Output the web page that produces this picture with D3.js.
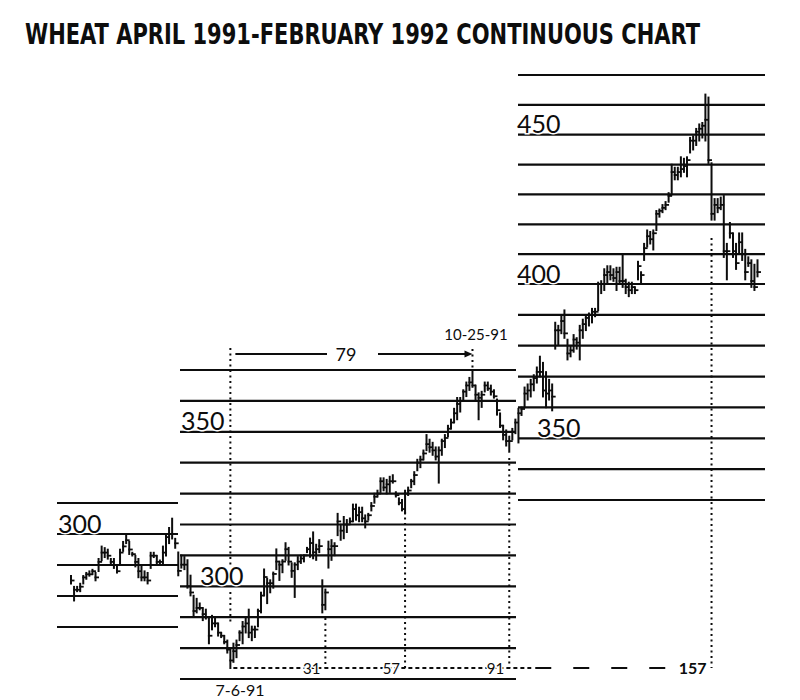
<!DOCTYPE html>
<html>
<head>
<meta charset="utf-8">
<script src="https://cdn.jsdelivr.net/npm/d3@7"></script>
<style>
  body { margin: 0; background: #fff; }
  svg { display: block; }
</style>
</head>
<body>
<svg id="chart" width="800" height="700"></svg>
<script>
// ---------------- DATA ----------------
const title = "WHEAT APRIL 1991-FEBRUARY 1992 CONTINUOUS CHART";

// daily bars (cents/bushel), index 0 = first bar, one per trading day
const high = [
  286.5,283,283,284,286.5,287.5,288,288.5,287.5,292,296,295.5,295,292,292,289.5,295,297.5,299.5,297.5,
  294,293,292,289.5,288,287.5,294,294,293,291.5,296,300,302,305,298.5,
  311,310,309.5,308.5,303.5,297,296,294.5,293,292.5,290,290.5,290,288,285,284,282.5,279.5,
  281.5,282.5,285.5,288.5,289.5,292.5,287,287,292.5,298,305.5,302.5,302,304.5,312,308,308.5,314,312.5,307.5,
  307.5,309.5,310,310,312.5,315.5,317.5,313.5,315,302,299,314.5,315,314,323.5,320,322.5,321.5,322,326.5,
  326.5,325.5,325.5,323,323.5,327,330,331,335,335,334.5,335.5,336,330.5,328.5,328,331,332,334.5,337,
  341,342,344,349,347.5,346.5,345,345,347.5,349,352,354,357.5,361,361,363.5,366,367.5,369.5,
  365,362.5,363,366,366,365,363.5,360.5,356,352,350.5,348.5,351,354,357.5,
  360,366.5,367.5,369,370.5,373,376.5,374.5,371.5,369,367.5,387.5,386.5,389.5,391.5,382,380,383.5,382.5,386.5,
  388.5,390,390.5,392,392,400.5,401,405,406,406,405,405.5,405.5,409.5,401.5,400.5,400.5,399,407.5,404,
  413.5,418,417.5,418,424.5,425,426.5,427.5,430.5,440,439,439,442.5,442,442.5,449,449.5,452,453.5,454,
  463.5,462.5,440.5,428.5,428.5,429,429.5,413.5,420.5,417,413.5,417,417,411.5,409,408,406.5,408
];
const low = [
  284,278.5,281.5,281.5,284,285.5,286.5,287,285,288,291.5,292.5,292,290.5,289,287.5,290.5,294.5,297,293.5,
  293,289.5,286,285,285,284,289,292.5,290.5,290.5,290.5,293,297,298.5,295.5,
  303.5,306,305.5,299.5,297,290,291.5,292.5,289,289.5,281.5,286,287,284,283.5,281.5,278.5,273.5,
  275.5,277,282.5,281.5,285,283.5,282.5,283.5,287,291.5,297,294.5,298,299.5,305.5,302,304.5,308.5,307,303,
  296.5,305.5,307.5,308,311,309.5,309,308.5,311,291.5,292.5,306,308.5,310,316.5,315,315.5,317.5,320.5,321,
  321.5,321,321,319,321.5,324.5,327,329,330.5,331,330,330.5,333.5,329,326.5,324.5,323.5,329.5,332,333,
  337.5,338.5,341,344,343.5,342.5,341,333.5,342.5,345,348.5,351,353,354,356.5,360.5,361.5,363.5,364.5,
  360.5,354,358,363,363.5,362,361,355.5,351.5,347.5,345.5,343.5,347.5,349.5,346.5,
  357.5,360,362.5,363.5,365.5,368,370,363.5,360,362.5,359,379,380.5,384,382.5,375.5,376.5,378,379,375.5,
  382.5,385,386.5,387.5,389.5,391.5,397,398,400,401.5,401,398,400,399,397,396,397,397,401.5,400.5,
  408,412.5,413.5,411.5,418,422.5,424,425,427.5,430,435,435,436,437.5,436,444,445,446.5,448,449,
  448,440.5,421.5,421.5,424,425,409,401.5,415.5,409,405,410.5,408,401.5,406,399,398,402.5
];
const close = [
  285,282,282,283,286,287,287,288,286,291,294,294,293,291,290,288,294,296,298,295,
  293.5,291,288,286,286,285,293,293,291,291,294,299,300,300,297,
  305,307,307,300,298,292,293,293,291,290,284,288,288,285,284,282,279.5,276,
  279,281,285,287,288,285,286,286,292,297,303,301,301,304,308,307,308,312,308,305,
  307,308,309,310,312,314,311,312,313,294,298,312,313,313,321,318,320,320,321,325,
  323,324,322,321,323,326,329,330,334,332,333,334,334,329.5,327,325,330,331,334,336,
  340,341,343,346,345,344,342,344,347,348,351,353,356,359,360,363,365,366,365,
  362,361,362,365,364,363,361.5,357,352,349,347,347,350,353,356,
  359.5,364.5,365.5,367.5,369.5,371.5,371.5,365.5,364.5,365.5,363.5,385,385,388,384,377.5,378.5,382,381,385,
  387,389,390,391,391,400,400,403,404,403,402,404,401,401,399,398,399,398,406,403,
  412,416,415,417,423.5,424.5,425.5,426.5,429.5,437.5,436.5,437.5,438.5,439.5,441.5,448,448,451,452,453,
  455,441.5,423.5,426.5,425.5,426.5,411,411,417,411,407,414,410,404,407,401,399,404
];

// three price panels (bar index ranges) and their horizontal reference lines
const panelFirstBar = [0, 35, 147];
const grid1 = [270, 280, 290, 300, 310];
const grid2 = [270, 280, 290, 300, 310, 320, 330, 340, 350, 360, 370];
const grid3 = [330, 340, 350, 360, 370, 380, 390, 400, 410, 420, 430, 440, 450, 460, 470];
const labels1 = [300];
const labels2 = [350, 300];
const labels3 = [450, 400, 350];

// time annotations (trading days)
const lowBar = 52;          // 7-6-91 low
const peakBar = 131;        // 10-25-91 high
const lowDate = "7-6-91";
const peakDate = "10-25-91";
const span = 79;
const countDays = [31, 57, 91, 157];

// ---------------- DRAW ----------------
const svg = d3.select("#chart");
const ink = "#0d0d0d";

svg.append("text")
  .attr("transform", "translate(25,44) scale(1,1.12)")
  .attr("x", 0).attr("y", 0)
  .attr("textLength", 675).attr("lengthAdjust", "spacingAndGlyphs")
  .style("font-family", "'DejaVu Sans Condensed','DejaVu Sans',sans-serif")
  .style("font-stretch", "condensed")
  .style("font-weight", "bold")
  .style("font-size", "25px")
  .attr("fill", ink)
  .text(title);

const x = d3.scaleLinear().domain([0, high.length - 1]).range([71, 757.5]);

const panels = [
  { x0: 57,  x1: 178, y: d3.scaleLinear().domain([270, 310]).range([627, 503]), grid: grid1, labels: labels1, lx: [58] },
  { x0: 180, x1: 516, y: d3.scaleLinear().domain([270, 370]).range([679, 370]), grid: grid2, labels: labels2, lx: [181, 200] },
  { x0: 518, x1: 765, y: d3.scaleLinear().domain([330, 400, 470]).range([500, 284, 75]), grid: grid3, labels: labels3, lx: [517, 517, 537] }
];

const bigFont = "Lato, 'Open Sans', 'DejaVu Sans', sans-serif";

panels.forEach(p => {
  svg.append("g").selectAll("line").data(p.grid).join("line")
    .attr("x1", p.x0).attr("x2", p.x1)
    .attr("y1", d => p.y(d)).attr("y2", d => p.y(d))
    .attr("stroke", ink).attr("stroke-width", 2.2);
});

// dotted vertical count lines
const dotted = (xx, y1, y2) => svg.append("line")
  .attr("x1", xx).attr("x2", xx).attr("y1", y1).attr("y2", y2)
  .attr("stroke", ink).attr("stroke-width", 2).attr("stroke-dasharray", "2,3.5");

const xLow = x(lowBar), xPeak = x(peakBar);
dotted(xLow, 348, 565);
dotted(xLow, 592, 622);
dotted(xPeak, 349, 370);
const countTop = [618, 512, 458, 238];
countDays.forEach((d, i) => dotted(x(lowBar + d), countTop[i], 668));

// bottom dashed count line
svg.append("line").attr("x1", xLow + 3).attr("x2", x(lowBar + 91) + 22)
  .attr("y1", 668).attr("y2", 668).attr("stroke", ink).attr("stroke-width", 1.8)
  .attr("stroke-dasharray", "4,3");
svg.append("line").attr("x1", x(lowBar + 91) + 26).attr("x2", 668)
  .attr("y1", 668).attr("y2", 668).attr("stroke", ink).attr("stroke-width", 2)
  .attr("stroke-dasharray", "16,22");

// price bars
const bars = svg.append("g");
high.forEach((h, i) => {
  const k = i >= panelFirstBar[2] ? 2 : (i >= panelFirstBar[1] ? 1 : 0);
  const ys = panels[k].y;
  const xi = x(i);
  bars.append("line")
    .attr("x1", xi).attr("x2", xi)
    .attr("y1", ys(h) - 0.8).attr("y2", ys(low[i]) + 0.8)
    .attr("stroke", ink).attr("stroke-width", 2);
  bars.append("line")
    .attr("x1", xi - 1).attr("x2", xi + 3.5)
    .attr("y1", ys(close[i])).attr("y2", ys(close[i]))
    .attr("stroke", ink).attr("stroke-width", 1.8);
});

// price labels on reference lines
panels.forEach(p => {
  p.labels.forEach((v, j) => {
    svg.append("text")
      .attr("x", p.lx[j]).attr("y", p.y(v) - 1.5)
      .style("font-family", bigFont).style("font-weight", 400)
      .style("font-size", "25px")
      .attr("fill", ink)
      .attr("stroke", "#fff").attr("stroke-width", 3).style("paint-order", "stroke")
      .text(v);
  });
});

// 79-day arrow
const arrowY = 354;
svg.append("line").attr("x1", xLow + 5).attr("x2", 327).attr("y1", arrowY).attr("y2", arrowY)
  .attr("stroke", ink).attr("stroke-width", 1.8);
svg.append("line").attr("x1", 378).attr("x2", xPeak - 3).attr("y1", arrowY).attr("y2", arrowY)
  .attr("stroke", ink).attr("stroke-width", 1.8);
svg.append("path")
  .attr("d", d3.line()([[xPeak - 8, arrowY - 3.5], [xPeak, arrowY], [xPeak - 8, arrowY + 3.5]]) + "Z")
  .attr("fill", ink);

const smallFont = "Lato, 'Open Sans', 'DejaVu Sans', sans-serif";
const small = (t, xx, yy, anchor, size, weight) => svg.append("text")
  .attr("x", xx).attr("y", yy).attr("text-anchor", anchor || "start")
  .style("font-family", smallFont).style("font-size", (size || 14) + "px")
  .style("font-weight", weight || 400)
  .attr("fill", ink)
  .attr("stroke", "#fff").attr("stroke-width", 3).style("paint-order", "stroke")
  .text(t);

small(span, 346, 361, "middle", 18);
small(peakDate, 476, 340, "middle", 15);
small(lowDate, 240, 696, "middle", 16);
countDays.forEach((d, i) => small(d, x(lowBar + d) - 5, 674, "end", i === 3 ? 16 : 15, i === 3 ? 700 : 400));
</script>
</body>
</html>
